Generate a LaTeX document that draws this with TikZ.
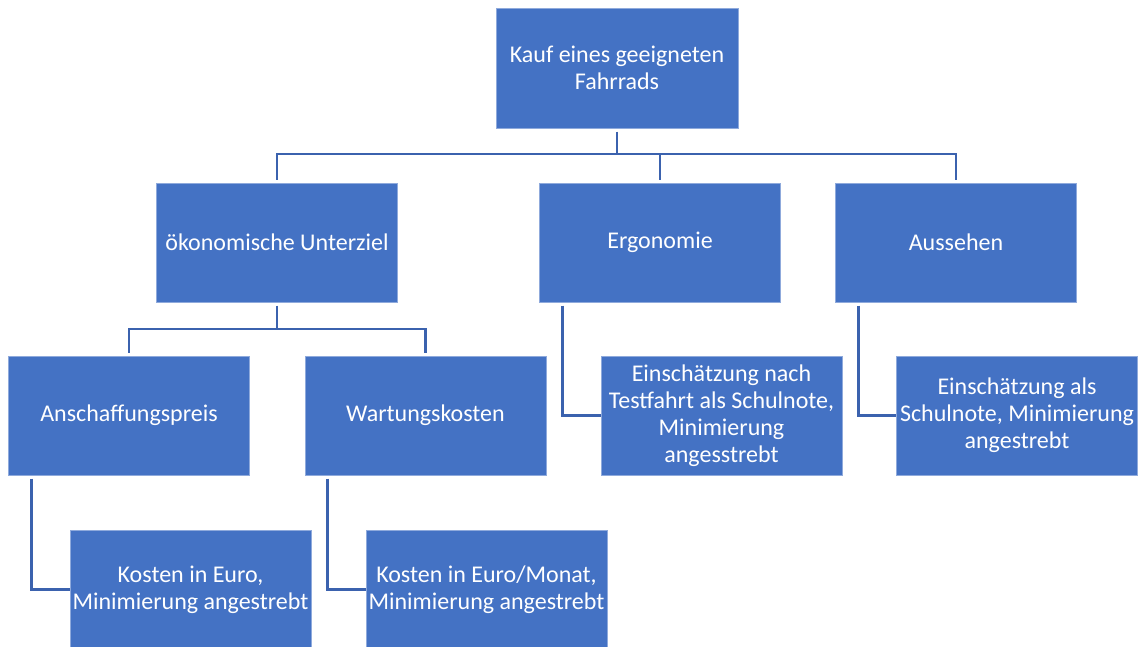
\documentclass[tikz,border=0pt]{standalone}
\usepackage{fontspec}
\setmainfont{Carlito}
\definecolor{boxfill}{HTML}{4472C4}
\definecolor{boxedge}{HTML}{8FAADC}
\definecolor{linkcol}{HTML}{3B62AE}
\tikzset{
  goal/.style={rectangle, fill=boxfill, draw=boxedge, line width=0.4pt,
    text=white, align=center, inner sep=2pt,
    minimum width=180.75pt, minimum height=89.25pt,
    font=\fontsize{18}{20.25}\selectfont},
  link/.style={draw=linkcol, line width=2pt},
}
\begin{document}
\begin{tikzpicture}[x=0.75pt, y=-0.75pt]
  \useasboundingbox (0,0) rectangle (1138,646);
  \clip (0,0) rectangle (1138,646);

  % root goal
  \node[goal, minimum width=181.5pt, minimum height=90pt] (root) at (617,68)
    {Kauf eines geeigneten\\Fahrrads};

  % sub-goals
  \node[goal] (eco) at (277,242.5) {ökonomische Unterziel};
  \node[goal] (erg) at (660,242.5) {Ergonomie};
  \node[goal] (aus) at (956,242.5) {Aussehen};

  % economic criteria
  \node[goal] (ans) at (129,415.5) {Anschaffungspreis};
  \node[goal] (wart) at (425.5,415.5) {Wartungskosten};

  % measurement descriptions
  \node[goal] (mErg) at (721.5,415.5)
    {Einschätzung nach\\Testfahrt als Schulnote,\\Minimierung\\angesstrebt};
  \node[goal] (mAus) at (1017,415.5)
    {Einschätzung als\\Schulnote, Minimierung\\angestrebt};
  \node[goal] (mAns) at (190.5,589.5)
    {Kosten in Euro,\\Minimierung angestrebt};
  \node[goal] (mWart) at (486.5,589.5)
    {Kosten in Euro/Monat,\\Minimierung angestrebt};

  % junctions of the tree
  \coordinate (j1) at (617,154);
  \coordinate (j2) at (277,329);

  \draw[link] ([yshift=-2.5pt]root.south) -- (j1);
  \draw[link] (j1) -| ([yshift=2pt]eco.north);
  \draw[link] (j1) -| ([yshift=2pt]erg.north);
  \draw[link] (j1) -| ([yshift=2pt]aus.north);

  \draw[link] ([yshift=-2.5pt]eco.south) -- (j2);
  \draw[link] (j2) -| ([yshift=2pt]ans.north);
  \draw[link] (j2) -| ([yshift=2pt]wart.north);

  % side links from a goal to its measurement
  \draw[link] ([xshift=17.25pt,yshift=-2.5pt]erg.south west) |- (mErg.west);
  \draw[link] ([xshift=17.25pt,yshift=-2.5pt]aus.south west) |- (mAus.west);
  \draw[link] ([xshift=17.25pt,yshift=-2.5pt]ans.south west) |- (mAns.west);
  \draw[link] ([xshift=17.25pt,yshift=-2.5pt]wart.south west) |- (mWart.west);
\end{tikzpicture}
\end{document}
